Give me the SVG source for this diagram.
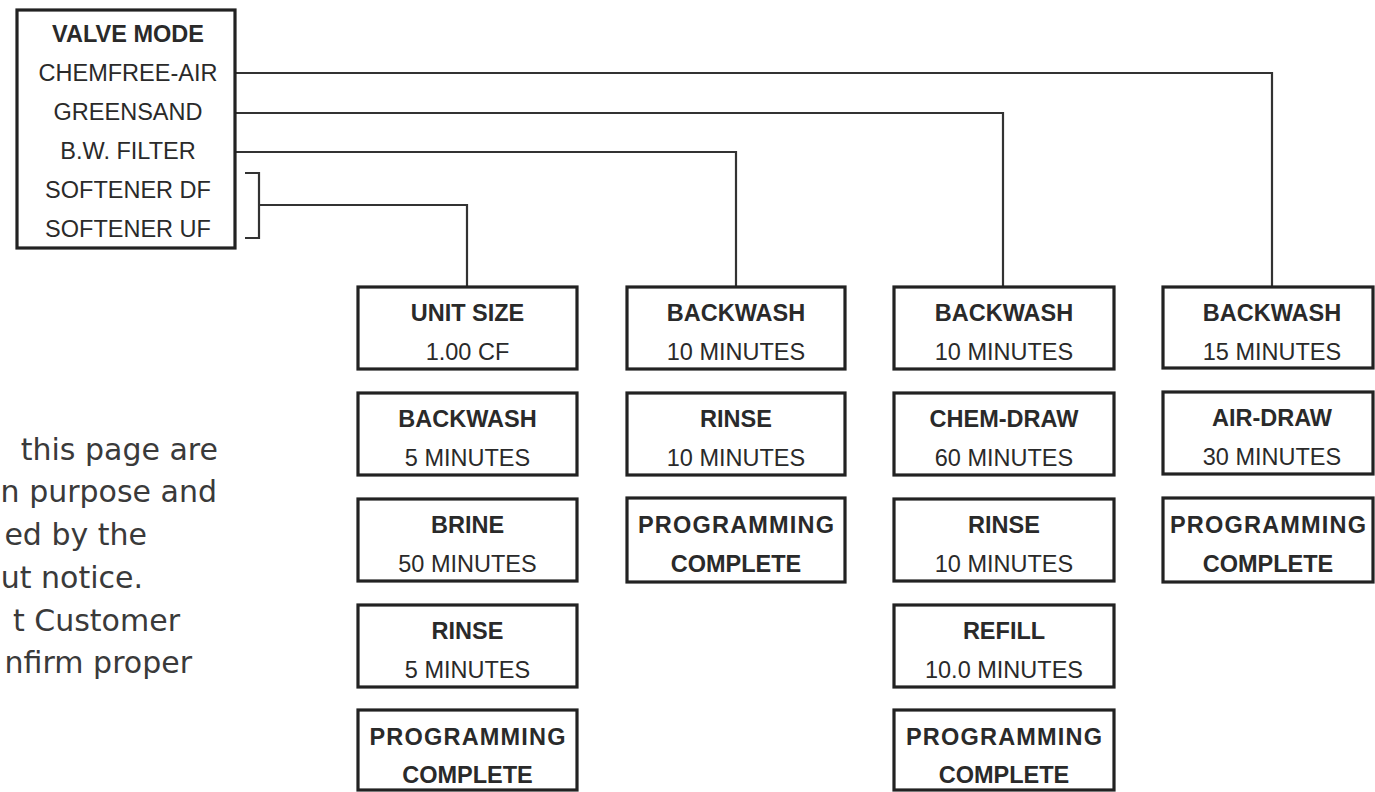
<svg xmlns="http://www.w3.org/2000/svg" width="1375" height="792" viewBox="0 0 1375 792">
<style>
.box{fill:#fff;stroke:#222;stroke-width:3.2}
.conn{fill:none;stroke:#333;stroke-width:2.2}
.t{font-family:"Liberation Sans",Arial,sans-serif;font-size:23.5px;fill:#2a2a2a;text-anchor:middle}
.b{font-weight:bold}
.note{font-family:"DejaVu Sans",Verdana,sans-serif;font-size:30px;fill:#3a3a3a;text-anchor:end}
</style>
<rect width="1375" height="792" fill="#fff"/>
<g id="connectors">
<path class="conn" d="M236 73 H1272 V287"/>
<path class="conn" d="M236 113 H1003 V287"/>
<path class="conn" d="M236 152 H736 V287"/>
<path class="conn" d="M245 173 H259 V238 H245"/>
<path class="conn" d="M259 205 H467 V287"/>
</g>
<g id="valve-mode">
<rect class="box" x="17" y="10" width="218" height="238"/>
<text class="t b" x="128" y="42">VALVE MODE</text>
<text class="t" x="128" y="81">CHEMFREE-AIR</text>
<text class="t" x="128" y="120">GREENSAND</text>
<text class="t" x="128" y="159">B.W. FILTER</text>
<text class="t" x="128" y="198">SOFTENER DF</text>
<text class="t" x="128" y="237">SOFTENER UF</text>
</g>
<g id="note">
<text class="note" x="218" y="460">this page are</text>
<text class="note" x="217" y="502">n purpose and</text>
<text class="note" x="147" y="545">ed by the</text>
<text class="note" x="143" y="588">ut notice.</text>
<text class="note" x="180" y="631">t Customer</text>
<text class="note" x="192" y="673">nfirm proper</text>
</g>
<g id="s-unitsize">
<rect class="box" x="358" y="287" width="219" height="82"/>
<text class="t b" x="467.5" y="321">UNIT SIZE</text>
<text class="t" x="467.5" y="360">1.00 CF</text>
</g>
<g id="s-backwash">
<rect class="box" x="358" y="393" width="219" height="82"/>
<text class="t b" x="467.5" y="427">BACKWASH</text>
<text class="t" x="467.5" y="466">5 MINUTES</text>
</g>
<g id="s-brine">
<rect class="box" x="358" y="499" width="219" height="82"/>
<text class="t b" x="467.5" y="533">BRINE</text>
<text class="t" x="467.5" y="572">50 MINUTES</text>
</g>
<g id="s-rinse">
<rect class="box" x="358" y="605" width="219" height="82"/>
<text class="t b" x="467.5" y="639">RINSE</text>
<text class="t" x="467.5" y="678">5 MINUTES</text>
</g>
<g id="s-complete">
<rect class="box" x="358" y="710" width="219" height="80"/>
<text class="t b" x="467.5" y="745" textLength="196" lengthAdjust="spacing">PROGRAMMING</text>
<text class="t b" x="467.5" y="783">COMPLETE</text>
</g>
<g id="f-backwash">
<rect class="box" x="627" y="287" width="218" height="82"/>
<text class="t b" x="736" y="321">BACKWASH</text>
<text class="t" x="736" y="360">10 MINUTES</text>
</g>
<g id="f-rinse">
<rect class="box" x="627" y="393" width="218" height="82"/>
<text class="t b" x="736" y="427">RINSE</text>
<text class="t" x="736" y="466">10 MINUTES</text>
</g>
<g id="f-complete">
<rect class="box" x="627" y="498" width="218" height="84"/>
<text class="t b" x="736" y="533" textLength="196" lengthAdjust="spacing">PROGRAMMING</text>
<text class="t b" x="736" y="572">COMPLETE</text>
</g>
<g id="g-backwash">
<rect class="box" x="894" y="287" width="220" height="82"/>
<text class="t b" x="1004" y="321">BACKWASH</text>
<text class="t" x="1004" y="360">10 MINUTES</text>
</g>
<g id="g-chemdraw">
<rect class="box" x="894" y="393" width="220" height="82"/>
<text class="t b" x="1004" y="427">CHEM-DRAW</text>
<text class="t" x="1004" y="466">60 MINUTES</text>
</g>
<g id="g-rinse">
<rect class="box" x="894" y="499" width="220" height="82"/>
<text class="t b" x="1004" y="533">RINSE</text>
<text class="t" x="1004" y="572">10 MINUTES</text>
</g>
<g id="g-refill">
<rect class="box" x="894" y="605" width="220" height="82"/>
<text class="t b" x="1004" y="639">REFILL</text>
<text class="t" x="1004" y="678">10.0 MINUTES</text>
</g>
<g id="g-complete">
<rect class="box" x="894" y="710" width="220" height="80"/>
<text class="t b" x="1004" y="745" textLength="196" lengthAdjust="spacing">PROGRAMMING</text>
<text class="t b" x="1004" y="783">COMPLETE</text>
</g>
<g id="c-backwash">
<rect class="box" x="1163" y="287" width="210" height="81"/>
<text class="t b" x="1272" y="321">BACKWASH</text>
<text class="t" x="1272" y="360">15 MINUTES</text>
</g>
<g id="c-airdraw">
<rect class="box" x="1163" y="392" width="210" height="82"/>
<text class="t b" x="1272" y="426">AIR-DRAW</text>
<text class="t" x="1272" y="465">30 MINUTES</text>
</g>
<g id="c-complete">
<rect class="box" x="1163" y="498" width="210" height="84"/>
<text class="t b" x="1268" y="533" textLength="196" lengthAdjust="spacing">PROGRAMMING</text>
<text class="t b" x="1268" y="572">COMPLETE</text>
</g>
</svg>
